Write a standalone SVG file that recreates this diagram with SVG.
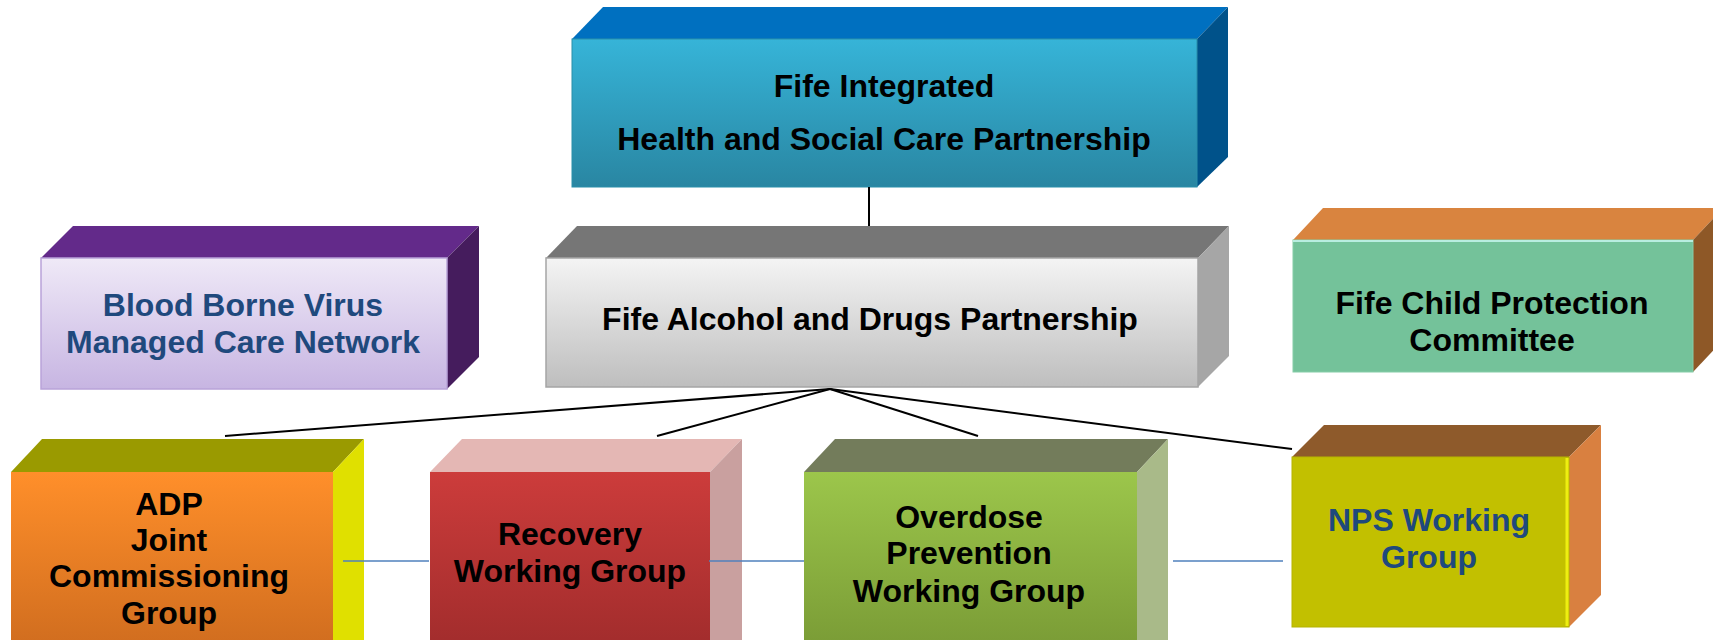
<svg xmlns="http://www.w3.org/2000/svg" width="1713" height="640" viewBox="0 0 1713 640">
<style>
text{font-family:"Liberation Sans",Arial,sans-serif;font-weight:bold;font-size:32px;text-anchor:middle;fill:#000}
.blue{fill:#1F497D}
.fan{stroke:#000;stroke-width:2;fill:none}
.link{stroke:#4F81BD;stroke-width:1.5;fill:none}
</style>
<defs>
<linearGradient id="gTop" x1="0" y1="0" x2="0" y2="1"><stop offset="0" stop-color="#36B4D8"/><stop offset="1" stop-color="#2986A2"/></linearGradient>
<linearGradient id="gPur" x1="0" y1="0" x2="0" y2="1"><stop offset="0" stop-color="#EFE9F7"/><stop offset="1" stop-color="#C7B5E2"/></linearGradient>
<linearGradient id="gGry" x1="0" y1="0" x2="0" y2="1"><stop offset="0" stop-color="#F4F4F4"/><stop offset="1" stop-color="#BEBEBE"/></linearGradient>
<linearGradient id="gOra" x1="0" y1="0" x2="0" y2="1"><stop offset="0" stop-color="#FF8F2A"/><stop offset="1" stop-color="#CC6A1E"/></linearGradient>
<linearGradient id="gRed" x1="0" y1="0" x2="0" y2="1"><stop offset="0" stop-color="#CC3C3B"/><stop offset="1" stop-color="#9E2B2B"/></linearGradient>
<linearGradient id="gGrn" x1="0" y1="0" x2="0" y2="1"><stop offset="0" stop-color="#9CC64B"/><stop offset="1" stop-color="#779834"/></linearGradient>
</defs>

<g id="node-hscp">
<polygon points="572,39 603,7 1228,7 1197,39" fill="#0070C0"/>
<polygon points="1197,39 1228,7 1228,157 1197,187" fill="#00528A"/>
<rect x="572" y="39" width="625" height="148" fill="url(#gTop)" stroke="#2A8FAA" stroke-width="1"/>
<text x="884" y="97">Fife Integrated</text>
<text x="884" y="150">Health and Social Care Partnership</text>
</g>

<g id="node-bbv">
<polygon points="41,258 73,226 479,226 447,258" fill="#632A8A"/>
<polygon points="447,258 479,226 479,357 447,389" fill="#451C5D"/>
<rect x="41" y="258" width="406" height="131" fill="url(#gPur)" stroke="#B9A3D9" stroke-width="1.5"/>
<text class="blue" x="243" y="316">Blood Borne Virus</text>
<text class="blue" x="243" y="353">Managed Care Network</text>
</g>

<g id="node-adp">
<polygon points="546,258 577,226 1229,226 1198,258" fill="#767676"/>
<polygon points="1198,258 1229,226 1229,356 1198,387" fill="#A6A6A6"/>
<rect x="546" y="258" width="652" height="129" fill="url(#gGry)" stroke="#A5A5A5" stroke-width="1.5"/>
<text x="870" y="330">Fife Alcohol and Drugs Partnership</text>
</g>

<g id="node-cpc">
<polygon points="1293,240 1323,208 1723,208 1693,240" fill="#D9843F"/>
<polygon points="1693,240 1723,208 1723,340 1693,372" fill="#8E5827"/>
<rect x="1293" y="240" width="400" height="132" fill="#74C29A" stroke="#86CDA8" stroke-width="1"/>
<line x1="1293" y1="241" x2="1693" y2="241" stroke="#B8EDE0" stroke-width="2"/>
<text x="1492" y="314">Fife Child Protection</text>
<text x="1492" y="351">Committee</text>
</g>

<g id="node-jcg">
<polygon points="11,472 42,439 364,439 333,472" fill="#9A9A00"/>
<polygon points="333,472 364,439 364,660 333,660" fill="#E0E000"/>
<rect x="11" y="472" width="322" height="190" fill="url(#gOra)"/>
<text x="169" y="515">ADP</text>
<text x="169" y="551">Joint</text>
<text x="169" y="587">Commissioning</text>
<text x="169" y="624">Group</text>
</g>

<g id="node-recovery">
<polygon points="430,472 462,439 742,439 710,472" fill="#E4B7B4"/>
<polygon points="710,472 742,439 742,660 710,660" fill="#C9A09F"/>
<rect x="430" y="472" width="280" height="190" fill="url(#gRed)"/>
<text x="570" y="545">Recovery</text>
<text x="570" y="582">Working Group</text>
</g>

<g id="node-overdose">
<polygon points="804,472 835,439 1168,439 1137,472" fill="#737C5B"/>
<polygon points="1137,472 1168,439 1168,660 1137,660" fill="#A9BA89"/>
<rect x="804" y="472" width="333" height="190" fill="url(#gGrn)"/>
<text x="969" y="528">Overdose</text>
<text x="969" y="564">Prevention</text>
<text x="969" y="602">Working Group</text>
</g>

<g id="node-nps">
<polygon points="1292,457 1324,425 1601,425 1569,457" fill="#8E5A2B"/>
<polygon points="1569,457 1601,425 1601,595 1569,627" fill="#D98040"/>
<rect x="1292" y="457" width="277" height="170" fill="#C2C000" stroke="#B5B300" stroke-width="1"/>
<line x1="1567" y1="458" x2="1567" y2="626" stroke="#EEEE10" stroke-width="3"/>
<text class="blue" x="1429" y="531">NPS Working</text>
<text class="blue" x="1429" y="568">Group</text>
</g>

<g id="connectors">
<line class="fan" x1="869" y1="187" x2="869" y2="226"/>
<line class="fan" x1="830" y1="389" x2="225" y2="436"/>
<line class="fan" x1="830" y1="389" x2="657" y2="436"/>
<line class="fan" x1="830" y1="389" x2="978" y2="436"/>
<line class="fan" x1="830" y1="389" x2="1292" y2="449"/>
<line class="link" x1="343" y1="561" x2="429" y2="561"/>
<line class="link" x1="709" y1="561" x2="804" y2="561"/>
<line class="link" x1="1173" y1="561" x2="1283" y2="561"/>
</g>
</svg>
